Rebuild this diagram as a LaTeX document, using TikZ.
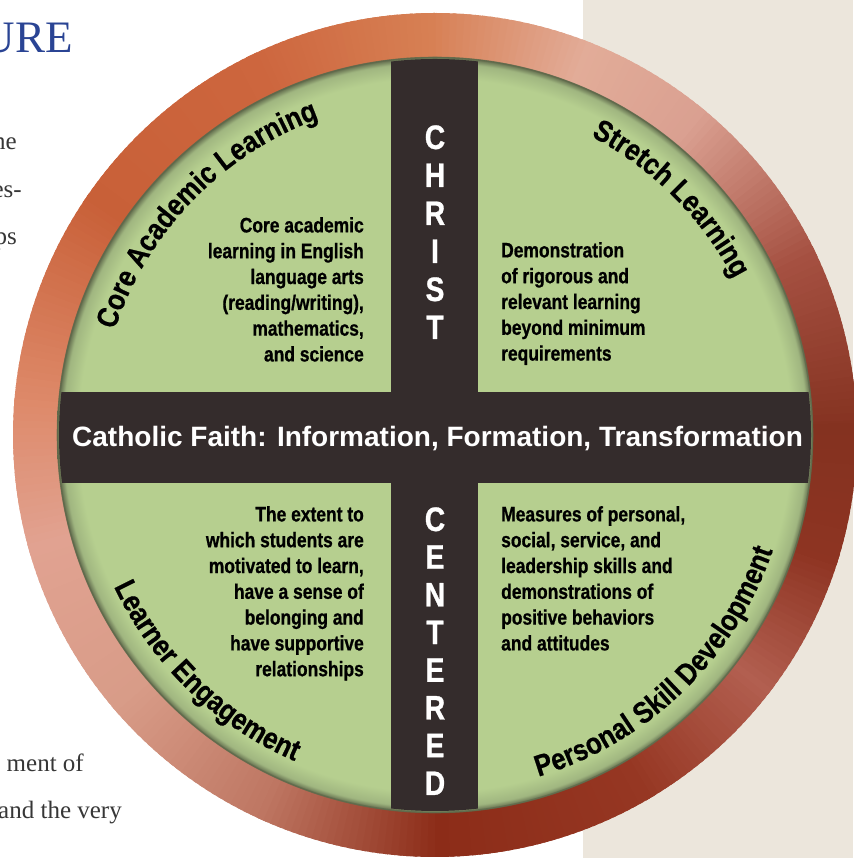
\documentclass[tikz,border=0pt]{standalone}
\usepackage{fontspec}
\setmainfont{Liberation Serif}
\newfontfamily\plainsans{Liberation Sans}
\newfontfamily\condsans[FakeStretch=0.83, BoldFeatures={FakeBold=0.8}]{Liberation Sans}
\newfontfamily\arcsans[FakeStretch=0.86, BoldFeatures={FakeBold=0.6}]{Liberation Sans}
\usetikzlibrary{decorations.text,calc}

\definecolor{leaf}{RGB}{182,207,143}
\definecolor{leafedge}{RGB}{160,182,128}
\definecolor{leafdark}{RGB}{95,105,75}
\definecolor{barc}{RGB}{52,44,44}
\definecolor{panel}{RGB}{236,230,220}
\definecolor{titleblue}{RGB}{42,68,148}
\definecolor{bodygray}{RGB}{55,55,55}
% ring colours by angle
\definecolor{k0}{RGB}{132,50,32}
\definecolor{k1}{RGB}{165,80,65}
\definecolor{k2}{RGB}{218,160,145}
\definecolor{k3}{RGB}{226,172,152}
\definecolor{k4}{RGB}{215,128,84}
\definecolor{k5}{RGB}{205,102,62}
\definecolor{k6}{RGB}{200,96,56}
\definecolor{k7}{RGB}{222,138,106}
\definecolor{k8}{RGB}{225,162,145}
\definecolor{k9}{RGB}{216,156,136}
\definecolor{k10}{RGB}{190,118,98}
\definecolor{k11}{RGB}{140,44,24}
\definecolor{k12}{RGB}{150,55,35}
\definecolor{k13}{RGB}{178,95,80}
\definecolor{k14}{RGB}{142,52,34}

\pgfdeclareradialshading{leafshade}{\pgfpoint{0bp}{0bp}}{color(0bp)=(leaf); color(23.6bp)=(leaf); color(24.6bp)=(leafedge); color(25bp)=(leafdark); color(50bp)=(leafdark)}

\newcommand\quadfnt{\condsans\bfseries\fontsize{21pt}{25.8pt}\selectfont}
\newcommand\arcfnt{\arcsans\bfseries\fontsize{30pt}{30pt}\selectfont}
\newcommand\crossfnt{\condsans\bfseries\fontsize{34pt}{34pt}\selectfont}
\newcommand\bodyfnt{\fontsize{25pt}{25pt}\selectfont}

\tikzset{
  quadtext/.style={font=\quadfnt, inner sep=0pt, text=black},
  crossletter/.style={font=\crossfnt, text=white, inner sep=0pt, anchor=base},
  bodytext/.style={font=\bodyfnt, text=bodygray, inner sep=0pt, anchor=base east},
  arctext/.style={decorate, decoration={text along path, text align=center, text={|\arcfnt|#1}}}
}

\begin{document}
\begin{tikzpicture}[x=1pt,y=1pt]
\useasboundingbox (0,0) rectangle (853,858);
\fill[white] (0,0) rectangle (853,858);
\fill[panel] (583,0) rectangle (853,858);

% left page fragments
\node[font=\fontsize{45pt}{45pt}\selectfont, text=titleblue, inner sep=0pt, anchor=base east] (ure) at (73,805) {URE};
\node[bodytext] (frag1) at (17,708) {ne};
\node[bodytext] (frag2) at (22,660) {es-};
\node[bodytext] (frag3) at (17,613) {ps};
\node[bodytext] (frag4) at (84,86) {ment of};
\node[bodytext] (frag5) at (122,39) {and the very};

\coordinate (C) at (435,423);

% copper ring: conic gradient built from wedges
\foreach \a/\b/\ca/\cb in {0/25/k0/k1, 25/50/k1/k2, 50/68/k2/k3, 68/90/k3/k4, 90/115/k4/k5, 115/145/k5/k6, 145/175/k6/k7, 175/195/k7/k8, 195/220/k8/k9, 220/245/k9/k10, 245/270/k10/k11, 270/300/k11/k12, 300/322/k12/k13, 322/342/k13/k14, 342/360/k14/k0}{
  \pgfmathtruncatemacro\n{\b-\a}
  \foreach \d in {0,...,\n}{
    \pgfmathtruncatemacro\p{100*\d/\n}
    \pgfmathsetmacro\ang{\a+\d}
    \fill[color=\cb!\p!\ca] (C) -- ++(\ang:422pt) arc[start angle=\ang, end angle=\ang+1.6, radius=422pt] -- cycle;
  }
}

% green disc
\shade[shading=leafshade] (C) circle (378pt);
\draw[line width=1.6pt, leafdark, opacity=0.7] (C) circle (377.5pt);

% dark cross
\begin{scope}
  \clip (C) circle (376pt);
  \fill[barc] (391,0) rectangle (478,858);
  \fill[barc] (0,375) rectangle (858,466);
\end{scope}

% arc titles
\path[arctext={Core Academic Learning}] ($(C)+(175:337pt)$) arc[start angle=175, end angle=97, radius=337pt];
\path[arctext={Stretch Learning}] ($(C)+(75:337pt)$) arc[start angle=75, end angle=15, radius=337pt];
\path[arctext={Learner Engagement}] ($(C)+(190:355pt)$) arc[start angle=190, end angle=262, radius=355pt];
\path[arctext={Personal Skill Development}] ($(C)+(268:357pt)$) arc[start angle=268, end angle=360, radius=357pt];

% cross texts
\node[font=\plainsans\bfseries\fontsize{28pt}{28pt}\selectfont, text=white, inner sep=0pt, anchor=base] (faith) at (437.5,411) {Catholic Faith: Information, Formation, Transformation};

\foreach \L [count=\i from 0] in {C,H,R,I,S,T}{
  \node[crossletter] (christ\i) at (435,709-38*\i) {\L};
}
\foreach \L [count=\i from 0] in {C,E,N,T,E,R,E,D}{
  \node[crossletter] (cent\i) at (435,327-37.7*\i) {\L};
}

% quadrant texts
\node[quadtext, anchor=north east, align=right] (q1) at (364,641) {Core academic\\learning in English\\language arts\\(reading/writing),\\mathematics,\\and science};
\node[quadtext, anchor=north west, align=left] (q2) at (501,616) {Demonstration\\of rigorous and\\relevant learning\\beyond minimum\\requirements};
\node[quadtext, anchor=north east, align=right] (q3) at (364,352) {The extent to\\which students are\\motivated to learn,\\have a sense of\\belonging and\\have supportive\\relationships};
\node[quadtext, anchor=north west, align=left] (q4) at (501,352) {Measures of personal,\\social, service, and\\leadership skills and\\demonstrations of\\positive behaviors\\and attitudes};
\end{tikzpicture}
\end{document}
